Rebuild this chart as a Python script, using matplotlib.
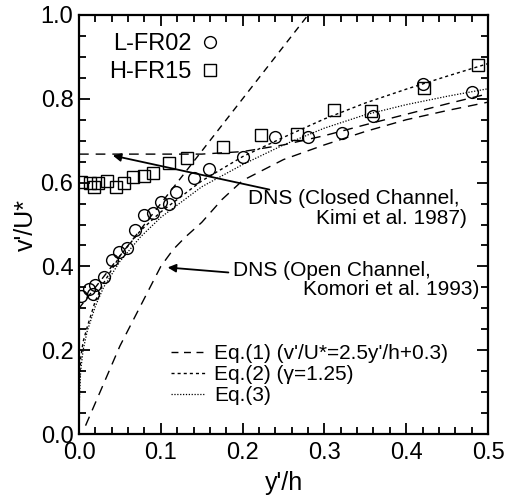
import matplotlib
matplotlib.use("Agg")
import matplotlib.pyplot as plt
from matplotlib.lines import Line2D

plt.rcParams["font.family"] = ["Liberation Sans", "DejaVu Sans"]

# measured turbulence intensity, L-FR02 run
lfr02_x = [0.003, 0.012, 0.017, 0.020, 0.030, 0.040, 0.049, 0.059, 0.069, 0.079,
           0.090, 0.100, 0.110, 0.119, 0.140, 0.159, 0.200, 0.240, 0.280, 0.321,
           0.360, 0.420, 0.480]
lfr02_y = [0.330, 0.345, 0.334, 0.356, 0.374, 0.415, 0.435, 0.443, 0.487, 0.523,
           0.528, 0.554, 0.550, 0.578, 0.610, 0.632, 0.660, 0.710, 0.710, 0.719,
           0.759, 0.835, 0.817]

# H-FR15 run
hfr15_x = [0.003, 0.013, 0.018, 0.023, 0.034, 0.045, 0.055, 0.066, 0.079, 0.090,
           0.110, 0.132, 0.176, 0.222, 0.267, 0.312, 0.357, 0.422, 0.488]
hfr15_y = [0.601, 0.598, 0.590, 0.598, 0.604, 0.589, 0.598, 0.614, 0.616, 0.622,
           0.646, 0.658, 0.686, 0.714, 0.716, 0.773, 0.772, 0.825, 0.881]

# DNS profiles
dns_closed_x = [0.0, 0.10, 0.15, 0.20, 0.25, 0.30, 0.35, 0.40, 0.45, 0.50]
dns_closed_y = [0.668, 0.668, 0.668, 0.674, 0.690, 0.712, 0.738, 0.763, 0.788, 0.812]
dns_open_x = [0.008, 0.05, 0.100, 0.115, 0.130, 0.150, 0.175, 0.200, 0.250, 0.300,
              0.350, 0.400, 0.450, 0.500]
dns_open_y = [0.020, 0.210, 0.400, 0.440, 0.470, 0.505, 0.560, 0.605, 0.655, 0.690,
              0.722, 0.750, 0.772, 0.792]

# Eq.(1), Eq.(2), Eq.(3)
eq1_x = [0.0, 0.28]
eq1_y = [0.30, 1.00]
eq2_x = [0.0005, 0.002, 0.005, 0.01, 0.02, 0.03, 0.05, 0.075, 0.10, 0.15, 0.20,
         0.25, 0.30, 0.35, 0.40, 0.45, 0.50]
eq2_y = [0.12, 0.18, 0.22, 0.255, 0.318, 0.360, 0.425, 0.485, 0.530, 0.604, 0.662,
         0.708, 0.752, 0.790, 0.823, 0.854, 0.884]
eq3_x = [0.0005, 0.002, 0.005, 0.01, 0.02, 0.03, 0.05, 0.075, 0.10, 0.15, 0.20,
         0.25, 0.30, 0.35, 0.40, 0.45, 0.50]
eq3_y = [0.08, 0.15, 0.20, 0.245, 0.305, 0.350, 0.412, 0.470, 0.517, 0.590, 0.643,
         0.690, 0.730, 0.762, 0.786, 0.806, 0.824]

fig = plt.figure(figsize=(5.15, 4.95), dpi=100)
ax = fig.add_axes([0.1534, 0.1232, 0.7942, 0.8465])

ax.plot(dns_closed_x, dns_closed_y, color="black", lw=1.0, dashes=(7, 5))
ax.plot(dns_open_x, dns_open_y, color="black", lw=1.0, dashes=(7, 5))
l1, = ax.plot(eq1_x, eq1_y, color="black", lw=1.0, dashes=(5, 4))
l2, = ax.plot(eq2_x, eq2_y, color="black", lw=1.0, dashes=(2.2, 2.2))
l3, = ax.plot(eq3_x, eq3_y, color="black", lw=0.9, dashes=(1, 1.3))

ax.plot(lfr02_x, lfr02_y, "o", ms=8.5, mfc="none", mec="black", mew=1.0)
ax.plot(hfr15_x, hfr15_y, "s", ms=8, mfc="none", mec="black", mew=1.0)

ax.set_xlim(0, 0.5)
ax.set_ylim(0, 1.0)
ax.set_xticks([0.0, 0.1, 0.2, 0.3, 0.4, 0.5])
ax.set_yticks([0.0, 0.2, 0.4, 0.6, 0.8, 1.0])
ax.set_xticks([i * 0.02 for i in range(26)], minor=True)
ax.set_yticks([i * 0.05 for i in range(21)], minor=True)
ax.tick_params(which="both", direction="in", top=True, right=True, width=1.3)
ax.tick_params(which="major", length=8, labelsize=17)
ax.tick_params(which="minor", length=5)
ax.tick_params(axis="x", which="major", pad=6)
ax.tick_params(axis="y", which="major", pad=4)
for s in ax.spines.values():
    s.set_linewidth(1.6)

ax.set_xlabel("y'/h", fontsize=18, labelpad=5)
ax.set_ylabel("v'/U*", fontsize=18, labelpad=2)

# annotations for the DNS curves
ax.annotate("", xy=(0.038, 0.666), xytext=(0.236, 0.582),
            arrowprops=dict(arrowstyle="-|>", color="black", lw=1.3,
                            mutation_scale=12))
ax.text(0.207, 0.561, "DNS (Closed Channel,", fontsize=15, va="center")
ax.text(0.474, 0.515, "Kimi et al. 1987)", fontsize=15, va="center", ha="right")
ax.annotate("", xy=(0.105, 0.398), xytext=(0.186, 0.385),
            arrowprops=dict(arrowstyle="-|>", color="black", lw=1.3,
                            mutation_scale=12))
ax.text(0.188, 0.391, "DNS (Open Channel,", fontsize=15, va="center")
ax.text(0.490, 0.344, "Komori et al. 1993)", fontsize=15, va="center", ha="right")

# legends
marker_handles = [
    Line2D([], [], ls="none", marker="o", ms=8.5, mfc="none", mec="black", mew=1.0),
    Line2D([], [], ls="none", marker="s", ms=8, mfc="none", mec="black", mew=1.0),
]
leg1 = ax.legend(marker_handles, ["L-FR02", "H-FR15"], loc="upper left",
                 bbox_to_anchor=(0.045, 0.985), frameon=False, markerfirst=False,
                 fontsize=17, handlelength=1.0, handletextpad=0.3,
                 labelspacing=0.25, borderpad=0)
ax.add_artist(leg1)
ax.legend([l1, l2, l3],
          ["Eq.(1) (v'/U*=2.5y'/h+0.3)", "Eq.(2) (\u03b3=1.25)", "Eq.(3)"],
          loc="upper left", bbox_to_anchor=(0.2, 0.24), frameon=False,
          fontsize=15, handlelength=1.6, handletextpad=0.45, labelspacing=0.1,
          borderpad=0)

fig.savefig("out.png", dpi=100)
